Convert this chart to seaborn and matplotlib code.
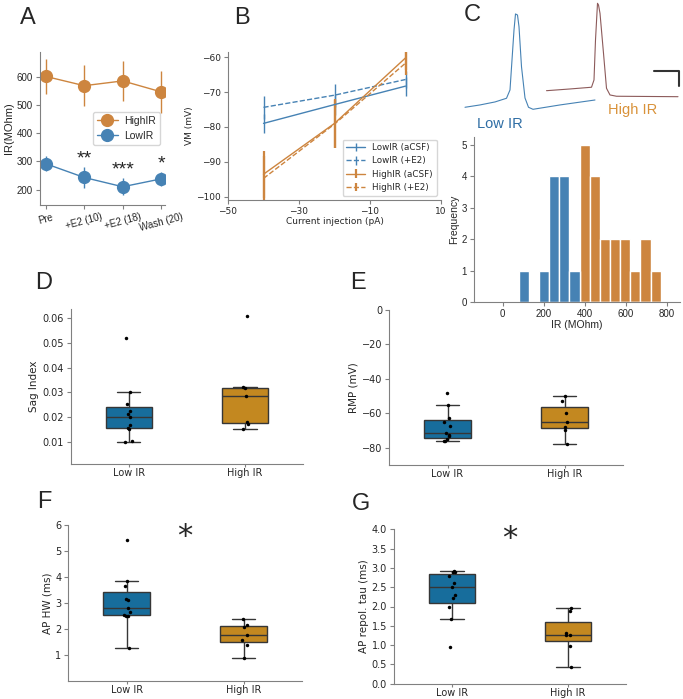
import numpy as np
import pandas as pd
import matplotlib
matplotlib.use("Agg")
import matplotlib.pyplot as plt
import seaborn as sns

# ---- A: input resistance over time (mean, sem)
a_conditions = ["Pre", "+E2 (10)", "+E2 (18)", "Wash (20)"]
a_high_mean = [603, 570, 587, 548]
a_high_sem = [62, 74, 72, 75]
a_low_mean = [292, 243, 210, 238]
a_low_sem = [27, 37, 31, 26]
a_stars = ["", "**", "***", "*"]

# ---- B: IV curves
b_current = [-40, -20, 0]
b_low_acsf = [-79.0, -73.6, -68.3]
b_low_acsf_err = [2.8, 3.0, 2.7]
b_low_e2 = [-74.4, -70.9, -66.4]
b_low_e2_err = [3.2, 3.3, 2.5]
b_high_acsf = [-93.6, -79.0, -60.2]
b_high_acsf_err = [6.8, 7.0, 3.5]
b_high_e2 = [-94.8, -79.2, -61.7]
b_high_e2_err = [6.5, 7.0, 3.5]

# ---- C: example spikes (ms, mV)
low_t = [2.0, 5.0, 8.0, 10.3, 11.0, 11.4, 11.8, 12.1, 12.5, 12.8, 13.3, 14.0, 14.7, 15.6, 21.0, 28.0]
low_v = [-65.0, -61.9, -57.9, -53.0, -41.9, -1.9, 38.0, 59.4, 58.0, 42.4, -10.9, -52.6, -65.0, -67.7, -61.9, -55.3]
high_t = [18.3, 23.0, 27.3, 27.8, 28.1, 28.5, 28.7, 29.0, 29.7, 30.3, 31.0, 32.3, 44.6]
high_v = [-42.9, -40.6, -38.3, -28.6, 24.7, 73.6, 71.4, 60.3, 7.0, -39.7, -48.6, -50.3, -50.9]

# ---- C: IR histogram
hist_edges = [78 + 49.5 * k for k in range(15)]
hist_counts = [1, 0, 1, 4, 4, 1, 5, 4, 2, 2, 2, 1, 2, 1]
hist_group = ["Low"] * 6 + ["High"] * 8

# ---- D-G: box plots
groups = ["Low IR", "High IR"]
sag_low = [0.0519, 0.0300, 0.0255, 0.0224, 0.0214, 0.0201, 0.0171, 0.0158, 0.0154, 0.0103, 0.0100]
sag_high = [0.0606, 0.0322, 0.0316, 0.0285, 0.0183, 0.0175, 0.0152]
rmp_low = [-48.0, -55.1, -62.6, -65.2, -67.1, -71.3, -72.3, -73.3, -75.1, -76.0, -76.3]
rmp_high = [-50.0, -52.9, -59.7, -65.1, -68.2, -69.4, -77.9]
hw_low = [5.42, 3.86, 3.64, 3.17, 3.13, 2.81, 2.64, 2.53, 2.51, 2.50, 1.26]
hw_high = [2.38, 2.15, 2.07, 1.78, 1.58, 1.39, 0.90]
tau_low = [2.92, 2.90, 2.89, 2.79, 2.62, 2.50, 2.31, 2.21, 1.99, 1.67, 0.94]
tau_high = [1.95, 1.89, 1.31, 1.27, 1.25, 0.98, 0.44]

blue = "steelblue"
orange = "peru"

sns.set_style("ticks")
plt.rcParams["font.family"] = ["DejaVu Sans"]
plt.rcParams["axes.edgecolor"] = "0.5"
plt.rcParams["xtick.color"] = "0.5"
plt.rcParams["ytick.color"] = "0.5"
plt.rcParams["xtick.labelcolor"] = "0.15"
plt.rcParams["ytick.labelcolor"] = "0.15"

fig = plt.figure(figsize=(6.83, 6.99), dpi=100)
W, H = 683, 699


def add_ax(x0, y0, x1, y1):
    a = fig.add_axes([x0 / W, 1 - y1 / H, (x1 - x0) / W, (y1 - y0) / H])
    a.patch.set_alpha(0)
    return a


arial = "Liberation Sans"

# ---------------- A
ax = add_ax(40, 52, 165, 205)
xs = np.arange(len(a_conditions))
ax.errorbar(xs, a_high_mean, yerr=a_high_sem, color=orange, marker="o", ms=8.5,
            lw=1, elinewidth=1, ecolor=orange, label="HighIR")
ax.errorbar(xs, a_low_mean, yerr=a_low_sem, color=blue, marker="o", ms=8.5,
            lw=1, elinewidth=1, ecolor=blue, label="LowIR")
for x, s, m, e in zip(xs, a_stars, a_low_mean, a_low_sem):
    if s:
        ax.text(x, m + e - 2, s, ha="center", va="bottom", fontsize=14, family=arial)
ax.set_xticks(xs)
ax.set_xticklabels(a_conditions, rotation=15, family=arial, fontsize=7)
ax.set_xlim(-0.15, 3.1)
ax.set_ylim(145, 690)
ax.set_yticks([200, 300, 400, 500, 600])
ax.tick_params(labelsize=7, labelfontfamily=arial, length=3, pad=2)
ax.set_ylabel("IR(MOhm)", fontsize=8, family=arial, labelpad=2)
ax.legend(loc="center right", bbox_to_anchor=(1.0, 0.5), prop={"family": arial, "size": 7.5},
          handletextpad=0.6, borderpad=0.4, markerscale=1.0)
sns.despine(ax=ax)

# ---------------- B
ax = add_ax(228, 52, 441, 200)
ax.errorbar(b_current, b_low_acsf, yerr=b_low_acsf_err, color=blue, lw=1, label="LowIR (aCSF)")
ax.errorbar(b_current, b_low_e2, yerr=b_low_e2_err, color=blue, lw=1, ls="--", label="LowIR (+E2)")
ax.errorbar(b_current, b_high_acsf, yerr=b_high_acsf_err, color=orange, lw=1, elinewidth=1.6, label="HighIR (aCSF)")
ax.errorbar(b_current, b_high_e2, yerr=b_high_e2_err, color=orange, lw=1, ls="--", elinewidth=1.6, label="HighIR (+E2)")
ax.set_xlim(-50, 10)
ax.set_xticks([-50, -30, -10, 10])
ax.set_ylim(-101, -58.5)
ax.set_yticks([-60, -70, -80, -90, -100])
ax.tick_params(labelsize=6.5, length=3, pad=2)
ax.set_xlabel("Current injection (pA)", fontsize=6.5, labelpad=1)
ax.set_ylabel("VM (mV)", fontsize=6.5, labelpad=2)
ax.legend(loc="lower right", fontsize=6.3, handlelength=2.2)
sns.despine(ax=ax)

# ---------------- C traces
ax = add_ax(455, 0, 683, 130)
sns.lineplot(x=low_t, y=low_v, color=blue, lw=0.8, ax=ax, sort=False)
sns.lineplot(x=high_t, y=high_v, color="#8c5a5a", lw=0.8, ax=ax, sort=False)
ax.plot([39.8, 44.8, 44.8], [-16.6, -16.6, -36.6], color="0.2", lw=1.5)
ax.set_xlim(0, 45.6)
ax.set_ylim(-95.3, 78.0)
ax.text(9, -87.4, "Low IR", color="#2e6da4", fontsize=10.5, ha="center", va="center", family=arial)
ax.text(35.6, -68.7, "High IR", color="#d9923a", fontsize=10.5, ha="center", va="center", family=arial)
ax.axis("off")

# ---------------- C histogram
ax = add_ax(474, 137, 680, 302)
centers = [(hist_edges[i] + hist_edges[i + 1]) / 2 for i in range(len(hist_counts))]
hdf = pd.DataFrame({"IR": centers, "n": hist_counts, "g": hist_group})
sns.histplot(data=hdf, x="IR", weights="n", hue="g", bins=hist_edges,
             palette={"Low": blue, "High": orange}, alpha=1, edgecolor="white",
             linewidth=1, legend=False, ax=ax)
ax.set_xlim(-140, 865)
ax.set_ylim(0, 5.25)
ax.set_xticks([0, 200, 400, 600, 800])
ax.set_yticks([0, 1, 2, 3, 4, 5])
ax.tick_params(labelsize=7, labelfontfamily=arial, length=3, pad=2)
ax.set_xlabel("IR (MOhm)", fontsize=7.5, family=arial, labelpad=1)
ax.set_ylabel("Frequency", fontsize=7.5, family=arial, labelpad=2)
sns.despine(ax=ax)


def box_panel(ax, low, high, ylabel):
    df = pd.DataFrame({"group": ["Low IR"] * len(low) + ["High IR"] * len(high),
                       "val": low + high})
    sns.boxplot(data=df, x="group", y="val", hue="group", order=groups, hue_order=groups,
                palette="colorblind", width=0.4, showfliers=False, linewidth=1,
                legend=False, ax=ax)
    sns.stripplot(data=df, x="group", y="val", order=groups, color="black",
                  size=2.5, jitter=0.03, ax=ax)
    ax.set_xlabel("")
    ax.set_ylabel(ylabel, fontsize=7.5, labelpad=2)
    ax.tick_params(axis="y", labelsize=7, length=3, pad=2)
    ax.tick_params(axis="x", labelsize=7, length=2, pad=1)
    ax.set_xlim(-0.5, 1.5)
    sns.despine(ax=ax)


# ---------------- D
ax = add_ax(70.7, 309, 303, 464)
box_panel(ax, sag_low, sag_high, "Sag Index")
ax.set_ylim(0.0012, 0.0636)
ax.set_yticks([0.01, 0.02, 0.03, 0.04, 0.05, 0.06])

# ---------------- E
ax = add_ax(389, 310, 623, 465)
box_panel(ax, rmp_low, rmp_high, "RMP (mV)")
ax.set_ylim(-90, 0)
ax.set_yticks([0, -20, -40, -60, -80])

# ---------------- F
ax = add_ax(68.3, 525, 302, 681)
box_panel(ax, hw_low, hw_high, "AP HW (ms)")
ax.set_ylim(0, 6)
ax.set_yticks([1, 2, 3, 4, 5, 6])
ax.text(0.5, 5.55, "*", fontsize=22, ha="center", va="center")

# ---------------- G
ax = add_ax(394, 529.3, 626, 683.7)
box_panel(ax, tau_low, tau_high, "AP repol. tau (ms)")
ax.set_ylim(0, 4)
ax.set_yticks([0, 0.5, 1, 1.5, 2, 2.5, 3, 3.5, 4])
ax.text(0.5, 3.75, "*", fontsize=22, ha="center", va="center")

# panel letters
for letter, x, y in [("A", 28, 18), ("B", 242, 18), ("C", 472, 15), ("D", 44, 283),
                     ("E", 358, 283), ("F", 44, 502), ("G", 361, 504)]:
    fig.text(x / W, 1 - y / H, letter, fontsize=17, ha="center", va="center", family=arial)

fig.savefig("out.png", dpi=100)
